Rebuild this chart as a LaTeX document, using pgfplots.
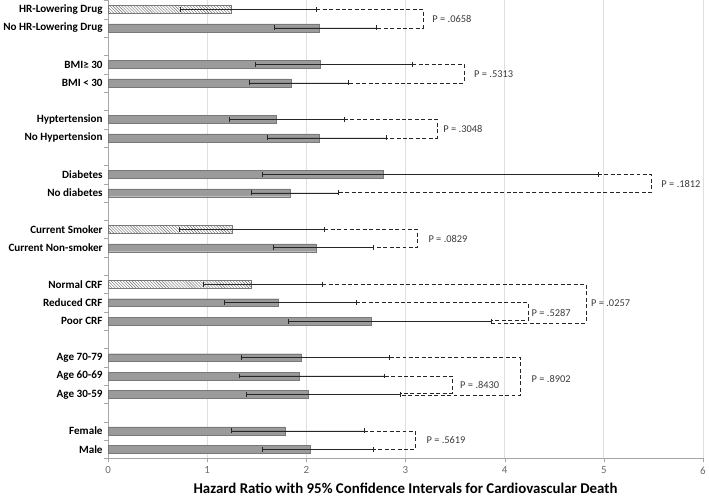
\documentclass[border=0pt]{standalone}
\usepackage{fontspec}
\setmainfont{Carlito}
\usepackage{pgfplots}
\usepackage{pgfplotstable}
\pgfplotsset{compat=1.18}
\usetikzlibrary{patterns}
\definecolor{barfill}{RGB}{155,155,155}
\definecolor{barline}{RGB}{120,120,120}
\definecolor{ptext}{RGB}{60,60,60}

% pos = slot on the y axis (0 = Male, bottom), hr = hazard ratio, lo/hi = 95% CI
\pgfplotstableread{
pos hr lo hi
0 2.04 1.56 2.67
1 1.79 1.24 2.58
3 2.02 1.39 2.95
4 1.93 1.32 2.79
5 1.95 1.34 2.84
7 2.65 1.82 3.86
8 1.72 1.17 2.50
11 2.10 1.67 2.67
14 1.84 1.44 2.32
15 2.78 1.56 4.94
17 2.13 1.61 2.81
18 1.70 1.22 2.38
20 1.85 1.42 2.42
21 2.14 1.48 3.07
23 2.13 1.68 2.70
}\solid
\pgfplotstableread{
pos hr lo hi
9 1.44 0.96 2.16
12 1.25 0.72 2.18
24 1.24 0.73 2.10
}\hatched

\begin{document}
\begin{tikzpicture}
\begin{axis}[
  width=600pt, height=462pt, scale only axis,
  xmin=0, xmax=6, ymin=-0.5, ymax=24.5,
  axis x line*=bottom, axis y line*=left,
  axis line style={gray!70, -},
  xtick={0,...,6}, minor xtick={0,...,6},
  ytick={0,1,3,4,5,7,8,9,11,12,14,15,17,18,20,21,23,24},
  yticklabels={Male, Female, Age 30-59, Age 60-69, Age 70-79, Poor CRF, Reduced CRF, Normal CRF, Current Non-smoker, Current Smoker, No diabetes, Diabetes, No Hypertension, Hyptertension, BMI < 30, BMI≥ 30, No HR-Lowering Drug, HR-Lowering Drug},
  minor ytick={-0.5,0.5,...,24.5},
  major tick length=0pt, minor tick length=4pt, tick align=outside,
  minor tick style={gray!70},
  xmajorgrids, grid style={gray!25, line width=0.8pt},
  /pgf/number format/assume math mode=true,
  x tick label style={font=\fontsize{11}{12}\selectfont, text=gray!85!black, yshift=-5pt},
  y tick label style={font=\fontsize{11.2}{12}\selectfont\bfseries, xshift=-2pt},
  xlabel={Hazard Ratio with 95\% Confidence Intervals for Cardiovascular Death},
  xlabel style={font=\fontsize{15}{17}\selectfont\bfseries, yshift=-2pt},
  xbar, bar width=8pt, bar shift=0pt,
  error bars/error mark=|,
  error bars/error bar style={gray!30!black, line width=0.5pt},
  error bars/error mark options={mark size=2.5pt, line width=0.5pt},
  clip=false,
]
\addplot[fill=barfill, draw=barline,
  error bars/.cd, x dir=both, x explicit]
  table[x=hr, y=pos, x error plus expr=\thisrow{hi}-\thisrow{hr},
        x error minus expr=\thisrow{hr}-\thisrow{lo}] {\solid};
\addplot[fill=white, draw=barline, pattern=north west lines, pattern color=gray!85!black,
  error bars/.cd, x dir=both, x explicit]
  table[x=hr, y=pos, x error plus expr=\thisrow{hi}-\thisrow{hr},
        x error minus expr=\thisrow{hr}-\thisrow{lo}] {\hatched};

% dashed brackets linking the compared groups
\pgfplotsset{bracket/.style={xbar=false, sharp plot, gray!30!black, line width=0.6pt, dash pattern=on 4pt off 2.5pt}}
\addplot[bracket] coordinates {(2.10,24) (3.18,24) (3.18,23) (2.70,23)};
\addplot[bracket] coordinates {(3.07,21) (3.59,21) (3.59,20) (2.42,20)};
\addplot[bracket] coordinates {(2.38,18) (3.32,18) (3.32,17) (2.81,17)};
\addplot[bracket] coordinates {(4.94,15) (5.48,15) (5.48,14) (2.32,14)};
\addplot[bracket] coordinates {(2.18,12) (3.12,12) (3.12,11) (2.67,11)};
\addplot[bracket] coordinates {(2.50,8) (4.24,8) (4.24,7.04) (3.86,7.04)};
\addplot[bracket] coordinates {(2.16,9) (4.82,9) (4.82,6.9) (3.86,6.9)};
\addplot[bracket] coordinates {(2.79,4) (3.47,4) (3.47,3.06) (2.95,3.06)};
\addplot[bracket] coordinates {(2.84,5) (4.16,5) (4.16,2.92) (2.95,2.92)};
\addplot[bracket] coordinates {(2.58,1) (3.10,1) (3.10,0) (2.67,0)};

\begin{scope}[every node/.style={anchor=west, font=\fontsize{10.5}{12}\selectfont, text=ptext, inner sep=0pt}]
\node at (axis cs:3.27,23.5) {P = .0658};
\node at (axis cs:3.69,20.5) {P = .5313};
\node at (axis cs:3.38,17.5) {P = .3048};
\node at (axis cs:5.58,14.5) {P = .1812};
\node at (axis cs:3.23,11.5) {P = .0829};
\node at (axis cs:4.27,7.45) {P = .5287};
\node at (axis cs:4.87,8.0) {P = .0257};
\node at (axis cs:3.55,3.5) {P = .8430};
\node at (axis cs:4.27,3.85) {P = .8902};
\node at (axis cs:3.21,0.5) {P = .5619};
\end{scope}
\end{axis}
\end{tikzpicture}
\end{document}
